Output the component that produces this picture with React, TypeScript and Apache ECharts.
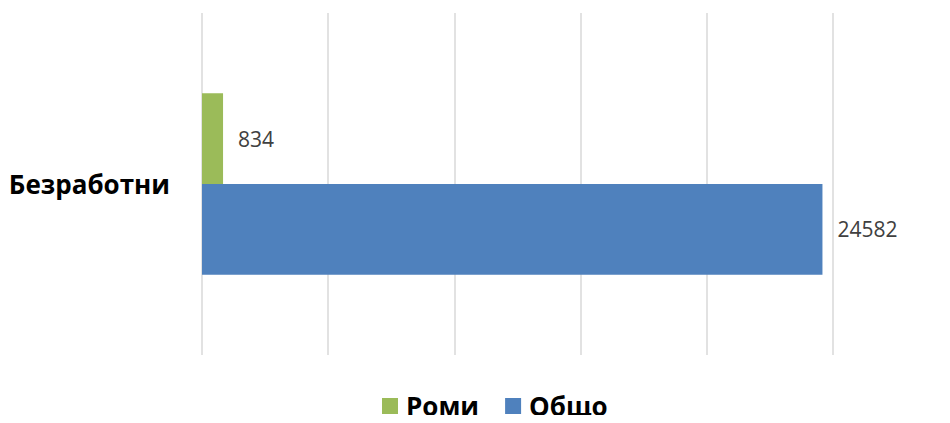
import React, { useEffect, useRef } from "react";
import * as echarts from "echarts";

const categories = ["Безработни"];
const seriesNames = ["Роми", "Общо"];
const romaValues = [834];
const totalValues = [24582];
const colors = ["#9BBB59", "#4F81BD"];

export default function App() {
  const ref = useRef<HTMLDivElement>(null);
  useEffect(() => {
    if (!ref.current) return;
    const chart = echarts.init(ref.current, null, { renderer: "svg" });
    const labelStyle = {
      show: true,
      position: "right",
      distance: 15,
      color: "#404040",
      fontSize: 21,
      fontFamily: "Open Sans",
    };
    chart.setOption({
      animation: false,
      backgroundColor: "#ffffff",
      grid: { left: 202, right: 117, top: 13, bottom: 68, containLabel: false },
      legend: {
        top: 392,
        left: 382,
        padding: 0,
        itemWidth: 16,
        itemHeight: 16,
        itemGap: 26,
        icon: "rect",
        data: seriesNames,
        textStyle: {
          fontSize: 26,
          lineHeight: 28,
          fontWeight: "bold",
          color: "#000000",
          fontFamily: "Open Sans",
          padding: [0, 0, 0, 3],
        },
      },
      xAxis: {
        type: "value",
        min: 0,
        max: 25000,
        interval: 5000,
        axisLabel: { show: false },
        axisLine: { show: false },
        axisTick: { show: false },
        splitLine: { show: true, lineStyle: { color: "#d9d9d9", width: 1.5 } },
      },
      yAxis: {
        type: "category",
        inverse: true,
        data: categories,
        axisLine: { show: false },
        axisTick: { show: false },
        axisLabel: {
          margin: 32,
          fontSize: 26,
          fontWeight: "bold",
          color: "#000000",
          fontFamily: "Open Sans",
        },
      },
      series: [
        {
          name: seriesNames[0],
          type: "bar",
          data: romaValues,
          itemStyle: { color: colors[0] },
          barGap: "0%",
          barCategoryGap: "47%",
          label: labelStyle,
        },
        {
          name: seriesNames[1],
          type: "bar",
          data: totalValues,
          itemStyle: { color: colors[1] },
          barGap: "0%",
          barCategoryGap: "47%",
          label: labelStyle,
        },
      ],
    });
    return () => chart.dispose();
  }, []);
  return <div ref={ref} style={{ width: 950, height: 423, margin: -8 }} />;
}
